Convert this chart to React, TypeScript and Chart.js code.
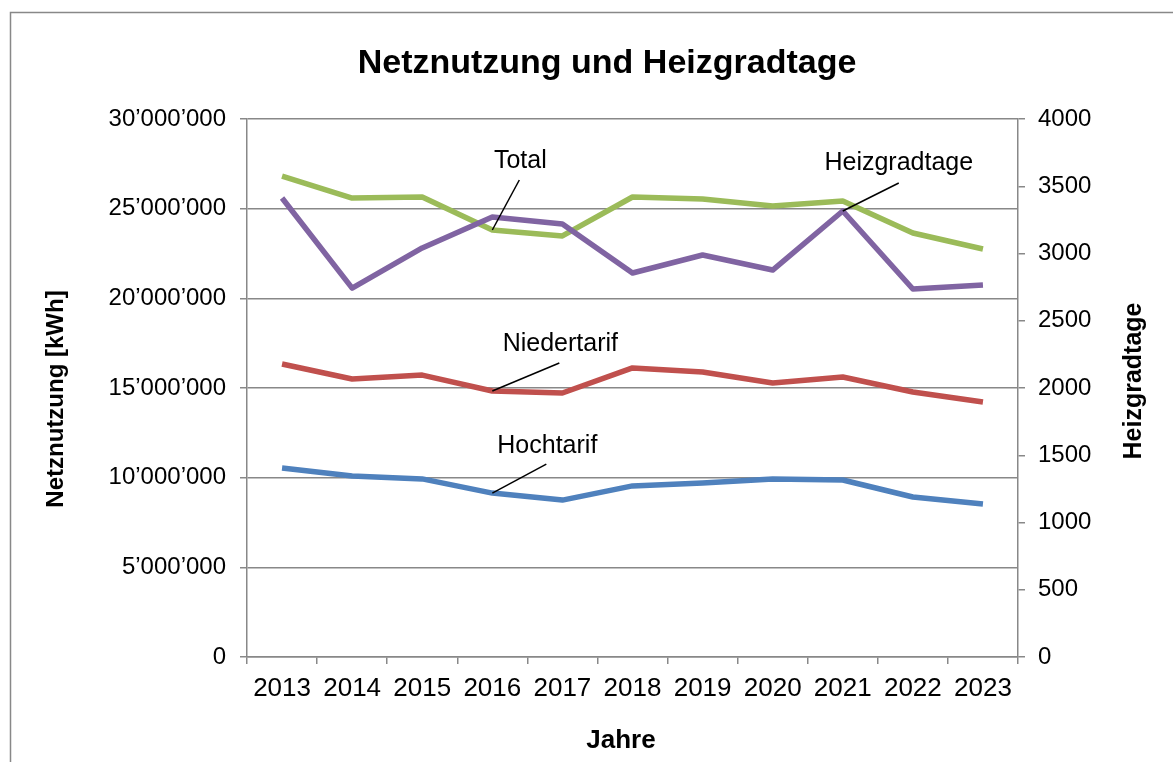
import React, { useEffect, useRef } from "react";
import { Chart, registerables } from "chart.js";

Chart.register(...registerables);

const years = ["2013", "2014", "2015", "2016", "2017", "2018", "2019", "2020", "2021", "2022", "2023"];
const hochtarif = [10540000, 10090000, 9930000, 9140000, 8750000, 9540000, 9700000, 9930000, 9870000, 8920000, 8530000];
const niedertarif = [16340000, 15500000, 15720000, 14830000, 14720000, 16120000, 15890000, 15280000, 15610000, 14780000, 14220000];
const total = [26820000, 25590000, 25650000, 23810000, 23480000, 25650000, 25540000, 25150000, 25430000, 23640000, 22750000];
const heizgradtage = [3413, 2743, 3041, 3271, 3219, 2855, 2989, 2877, 3316, 2736, 2766];

const chartTitle = "Netznutzung und Heizgradtage";
const xTitle = "Jahre";
const yTitle = "Netznutzung [kWh]";
const y1Title = "Heizgradtage";

// label, dataset index, point index, line end offset, text centre offset
const annotations = [
  { text: "Total", ds: 2, idx: 3, lx: 27, ly: -50, tx: 28, ty: -69 },
  { text: "Heizgradtage", ds: 3, idx: 8, lx: 56, ly: -28, tx: 56, ty: -48 },
  { text: "Niedertarif", ds: 1, idx: 3, lx: 67, ly: -28, tx: 68, ty: -47 },
  { text: "Hochtarif", ds: 0, idx: 3, lx: 54, ly: -29, tx: 55, ty: -47 },
];

const FONT = "'Liberation Sans', Arial, Helvetica, sans-serif";
const GRAY = "#888888";

function fmt(v: number): string {
  return String(Math.round(v)).replace(/\B(?=(\d{3})+(?!\d))/g, "\u2019");
}

const decorPlugin = {
  id: "decor",
  beforeDraw(chart: any) {
    const ctx = chart.ctx;
    ctx.save();
    ctx.fillStyle = "#ffffff";
    ctx.fillRect(0, 0, chart.width, chart.height);
    ctx.strokeStyle = GRAY;
    ctx.lineWidth = 1.5;
    ctx.beginPath();
    ctx.moveTo(10.5, chart.height + 2);
    ctx.lineTo(10.5, 12.5);
    ctx.lineTo(chart.width + 2, 12.5);
    ctx.stroke();
    ctx.restore();
  },
  afterDatasetsDraw(chart: any) {
    const ctx = chart.ctx;
    ctx.save();
    annotations.forEach((a) => {
      const meta = chart.getDatasetMeta(a.ds);
      const pt = meta.data[a.idx];
      if (!pt) return;
      ctx.strokeStyle = "#000000";
      ctx.lineWidth = 1.5;
      ctx.beginPath();
      ctx.moveTo(pt.x, pt.y);
      ctx.lineTo(pt.x + a.lx, pt.y + a.ly);
      ctx.stroke();
      ctx.fillStyle = "#000000";
      ctx.font = `25px ${FONT}`;
      ctx.textAlign = "center";
      ctx.textBaseline = "middle";
      ctx.fillText(a.text, pt.x + a.tx, pt.y + a.ty);
    });
    ctx.fillStyle = "#000000";
    ctx.textAlign = "center";
    ctx.textBaseline = "middle";
    ctx.font = `bold 34px ${FONT}`;
    ctx.fillText(chartTitle, 607, 64);
    ctx.font = `bold 26px ${FONT}`;
    ctx.fillText(xTitle, 621, 741);
    ctx.save();
    ctx.translate(56, 399);
    ctx.rotate(-Math.PI / 2);
    ctx.font = `bold 24px ${FONT}`;
    ctx.fillText(yTitle, 0, 0);
    ctx.restore();
    ctx.save();
    ctx.translate(1134, 381);
    ctx.rotate(-Math.PI / 2);
    ctx.font = `bold 25px ${FONT}`;
    ctx.fillText(y1Title, 0, 0);
    ctx.restore();
    ctx.restore();
  },
};

export default function App() {
  const ref = useRef<HTMLCanvasElement>(null);
  useEffect(() => {
    if (!ref.current) return;
    const lineCommon = {
      borderWidth: 5.5,
      pointRadius: 0,
      pointHoverRadius: 0,
      tension: 0,
      borderJoinStyle: "round" as const,
      fill: false,
    };
    const chart = new Chart(ref.current, {
      type: "line",
      data: {
        labels: years,
        datasets: [
          { label: "Hochtarif", data: hochtarif, borderColor: "#4F81BD", yAxisID: "y", order: 4, ...lineCommon },
          { label: "Niedertarif", data: niedertarif, borderColor: "#C0504D", yAxisID: "y", order: 3, ...lineCommon },
          { label: "Total", data: total, borderColor: "#9BBB59", yAxisID: "y", order: 2, ...lineCommon },
          { label: "Heizgradtage", data: heizgradtage, borderColor: "#8064A2", yAxisID: "y1", order: 1, ...lineCommon },
        ],
      },
      options: {
        responsive: false,
        animation: false,
        events: [],
        layout: { padding: { top: 119, left: 0, right: 0, bottom: 0 } },
        plugins: {
          legend: { display: false },
          title: { display: false },
          tooltip: { enabled: false },
        },
        scales: {
          x: {
            type: "category",
            offset: true,
            grid: { display: true, drawOnChartArea: false, drawTicks: true, tickLength: 7, offset: true, color: GRAY, lineWidth: 1.5 },
            border: { display: true, color: GRAY, width: 1.5 },
            ticks: { color: "#000", font: { family: FONT, size: 26 }, padding: 9, maxRotation: 0, autoSkip: false },
            afterFit: (s: any) => { s.height = 105; },
          },
          y: {
            position: "left",
            min: 0,
            max: 30000000,
            grid: { display: true, drawOnChartArea: true, drawTicks: true, tickLength: 7, color: GRAY, lineWidth: 1.5 },
            border: { display: true, color: GRAY, width: 1.5 },
            ticks: { stepSize: 5000000, color: "#000", font: { family: FONT, size: 24 }, padding: 14, callback: (v: any) => fmt(Number(v)) },
            afterFit: (s: any) => { s.width = 247; },
          },
          y1: {
            position: "right",
            min: 0,
            max: 4000,
            grid: { display: true, drawOnChartArea: false, drawTicks: true, tickLength: 7, color: GRAY, lineWidth: 1.5 },
            border: { display: true, color: GRAY, width: 1.5 },
            ticks: { stepSize: 500, color: "#000", font: { family: FONT, size: 24 }, padding: 13, callback: (v: any) => String(v) },
            afterFit: (s: any) => { s.width = 155; },
          },
        },
      },
      plugins: [decorPlugin],
    });
    return () => chart.destroy();
  }, []);
  return (
    <div style={{ position: "absolute", left: 0, top: 0, width: 1173, height: 762, overflow: "hidden", background: "#fff" }}>
      <canvas ref={ref} width={1173} height={762} style={{ display: "block" }} />
    </div>
  );
}
